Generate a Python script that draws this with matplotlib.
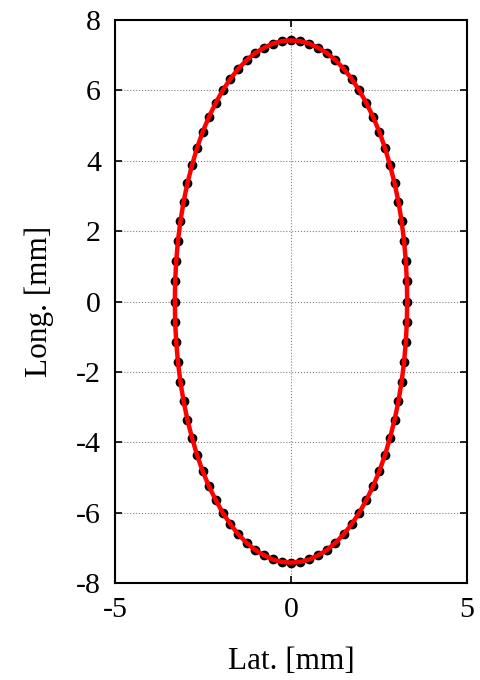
import matplotlib
matplotlib.use('Agg')
import matplotlib.pyplot as plt

# measured contour points (black dots), lat / long in mm
lat = [3.30, 3.29, 3.26, 3.21, 3.14, 3.05, 2.94, 2.81, 2.67, 2.51, 2.33, 2.14, 1.94, 1.72, 1.50, 1.26, 1.02, 0.77, 0.52, 0.26, 0.00,
       -0.26, -0.52, -0.77, -1.02, -1.26, -1.50, -1.72, -1.94, -2.14, -2.33, -2.51, -2.67, -2.81, -2.94, -3.05, -3.14, -3.21, -3.26, -3.29, -3.30,
       -3.29, -3.26, -3.21, -3.14, -3.05, -2.94, -2.81, -2.67, -2.51, -2.33, -2.14, -1.94, -1.72, -1.50, -1.26, -1.02, -0.77, -0.52, -0.26, 0.00,
       0.26, 0.52, 0.77, 1.02, 1.26, 1.50, 1.72, 1.94, 2.14, 2.33, 2.51, 2.67, 2.81, 2.94, 3.05, 3.14, 3.21, 3.26, 3.29]
lon = [0.00, 0.58, 1.16, 1.73, 2.29, 2.84, 3.37, 3.88, 4.36, 4.82, 5.25, 5.64, 6.00, 6.33, 6.61, 6.86, 7.06, 7.21, 7.33, 7.40, 7.42,
       7.40, 7.33, 7.21, 7.06, 6.86, 6.61, 6.33, 6.00, 5.64, 5.25, 4.82, 4.36, 3.88, 3.37, 2.84, 2.29, 1.73, 1.16, 0.58, 0.00,
       -0.58, -1.16, -1.73, -2.29, -2.84, -3.37, -3.88, -4.36, -4.82, -5.25, -5.64, -6.00, -6.33, -6.61, -6.86, -7.06, -7.21, -7.33, -7.40, -7.42,
       -7.40, -7.33, -7.21, -7.06, -6.86, -6.61, -6.33, -6.00, -5.64, -5.25, -4.82, -4.36, -3.88, -3.37, -2.84, -2.29, -1.73, -1.16, -0.58]

xticks = [-5, 0, 5]
yticks = [-8, -6, -4, -2, 0, 2, 4, 6, 8]

plt.rcParams['font.family'] = ['Liberation Serif', 'DejaVu Serif']
plt.rcParams['font.size'] = 21.5
plt.rcParams['axes.unicode_minus'] = False

fig = plt.figure(figsize=(4.81, 6.80), dpi=100)
ax = fig.add_axes([0.239, 0.1426, 0.732, 0.828])

ax.plot(lat, lon, 'o', color='black', markersize=6, zorder=2)
ax.plot(lat + lat[:1], lon + lon[:1], '-', color='red', linewidth=3.2, zorder=3)

ax.set_xlim(-5, 5)
ax.set_ylim(-8, 8)
ax.set_xticks(xticks)
ax.set_yticks(yticks)
ax.grid(True, linestyle=':', color='gray', linewidth=0.8)
ax.tick_params(direction='in', length=5, width=1.2, top=True, right=True, pad=10)
for s in ax.spines.values():
    s.set_linewidth(1.5)

ax.set_xlabel('Lat. [mm]', fontsize=22.5, labelpad=17)
ax.set_ylabel('Long. [mm]', fontsize=22.5, labelpad=16)

fig.savefig('out.png', dpi=100)
